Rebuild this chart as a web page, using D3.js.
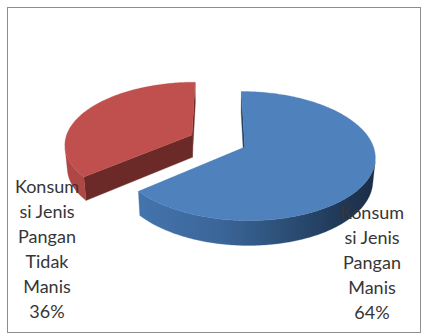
<!DOCTYPE html>
<html>
<head>
<meta charset="utf-8">
<script src="https://cdn.jsdelivr.net/npm/d3@7/dist/d3.min.js"></script>
<style>
  html, body { margin: 0; padding: 0; background: #fff; }
  svg { display: block; }
</style>
</head>
<body>
<svg id="chart" width="425" height="336"></svg>
<script>
// Chart data
const categories = ["Konsumsi Jenis Pangan Manis", "Konsumsi Jenis Pangan Tidak Manis"];
const values = [64, 36];
const labelLines = [
  ["Konsum", "si Jenis", "Pangan", "Manis", "64%"],
  ["Konsum", "si Jenis", "Pangan", "Tidak", "Manis", "36%"]
];
const topColors = ["#4F81BD", "#C0504D"];
const sideColors = ["#2B4C74", "#B04744"];
const cutColors = ["#23405F", "#6B2A28"];

const W = 425, H = 336;
const svg = d3.select("#chart");

// outer frame of the chart area
svg.append("rect")
  .attr("x", 7.5).attr("y", 7.5)
  .attr("width", 413).attr("height", 325)
  .attr("fill", "#fff").attr("stroke", "#8d8d8d").attr("stroke-width", 1);

// 3D pie camera model: pie lies in the y=0 plane, camera above and in front
const view = {
  cx: 218, cy: 141,      // screen position of the pie centre
  f: 815,                // focal length
  D: 1,                  // camera distance
  phi: 29 * Math.PI / 180, // elevation angle
  R: 0.156,              // pie radius
  h: 0.032,              // pie thickness
  explode: 0.0357        // offset of each slice along its bisector
};
const sinP = Math.sin(view.phi), cosP = Math.cos(view.phi);
const cam = [0, view.D * sinP, -view.D * cosP];

function project(X, Y, Z) {
  const depth = -Y * sinP + Z * cosP + view.D;
  const up = Y * cosP + Z * sinP;
  return [view.cx + view.f * X / depth, view.cy - view.f * up / depth];
}

const pie = d3.pie().sort(null).value(d => d).startAngle(0).endAngle(2 * Math.PI);
const arcs = pie(values);

const defs = svg.append("defs");
const grad = defs.append("linearGradient").attr("id", "blueSide")
  .attr("gradientUnits", "userSpaceOnUse")
  .attr("x1", 140).attr("x2", 376).attr("y1", 0).attr("y2", 0);
[[0, "#4474AD"], [0.35, "#3A6598"], [0.6, "#2D5079"], [0.82, "#213B5B"], [1, "#1A2D45"]]
  .forEach(([o, c]) => grad.append("stop").attr("offset", o).attr("stop-color", c));

const line = d3.line();
const STEP = Math.PI / 180;

function slicePieces(a, i) {
  const mid = (a.startAngle + a.endAngle) / 2;
  const ox = view.explode * Math.sin(mid), oz = view.explode * Math.cos(mid);
  const pt = (t, y) => project(ox + view.R * Math.sin(t), y, oz + view.R * Math.cos(t));
  const ctr = y => project(ox, y, oz);
  const n = Math.max(2, Math.ceil((a.endAngle - a.startAngle) / STEP));
  const ts = d3.range(n + 1).map(k => a.startAngle + (a.endAngle - a.startAngle) * k / n);

  // visible part of the curved rim
  const vis = ts.filter(t => {
    const P = [ox + view.R * Math.sin(t), 0, oz + view.R * Math.cos(t)];
    return Math.sin(t) * (cam[0] - P[0]) + Math.cos(t) * (cam[2] - P[2]) > 0;
  });

  const pieces = [];
  // radial cut faces
  [[a.startAngle, -1], [a.endAngle, 1]].forEach(([t, s]) => {
    const nx = s * Math.cos(t), nz = -s * Math.sin(t);
    const ex = ox + view.R * Math.sin(t) * 0.5, ez = oz + view.R * Math.cos(t) * 0.5;
    if (nx * (cam[0] - ex) + nz * (cam[2] - ez) > 0) {
      pieces.push({
        d: line([ctr(0), pt(t, 0), pt(t, -view.h), ctr(-view.h)]) + "Z",
        fill: cutColors[i]
      });
    }
  });
  if (vis.length > 1) {
    const topEdge = vis.map(t => pt(t, 0));
    const botEdge = vis.slice().reverse().map(t => pt(t, -view.h));
    pieces.push({
      d: line(topEdge.concat(botEdge)) + "Z",
      fill: i === 0 ? "url(#blueSide)" : sideColors[i]
    });
  }
  pieces.push({
    d: line([ctr(0)].concat(ts.map(t => pt(t, 0)))) + "Z",
    fill: topColors[i]
  });
  return pieces;
}

// draw the back slice first so the front slice covers it
const order = [1, 0];
const g = svg.append("g");
order.forEach(i => {
  slicePieces(arcs[i], i).forEach(p => {
    g.append("path").attr("d", p.d).attr("fill", p.fill)
      .attr("stroke", p.fill).attr("stroke-width", 0.3).attr("stroke-linejoin", "round");
  });
});

// data labels
const labelPos = [
  { x: 372, y: 219 },
  { x: 47, y: 193 }
];
const lineH = 25;
labelLines.forEach((lines, i) => {
  const t = svg.append("text")
    .attr("x", labelPos[i].x).attr("y", labelPos[i].y)
    .attr("text-anchor", "middle")
    .attr("font-family", "Lato, 'Open Sans', sans-serif")
    .attr("font-size", 18)
    .attr("fill", "#363636");
  lines.forEach((s, k) => {
    t.append("tspan").attr("x", labelPos[i].x).attr("y", labelPos[i].y + k * lineH).text(s);
  });
});
</script>
</body>
</html>
